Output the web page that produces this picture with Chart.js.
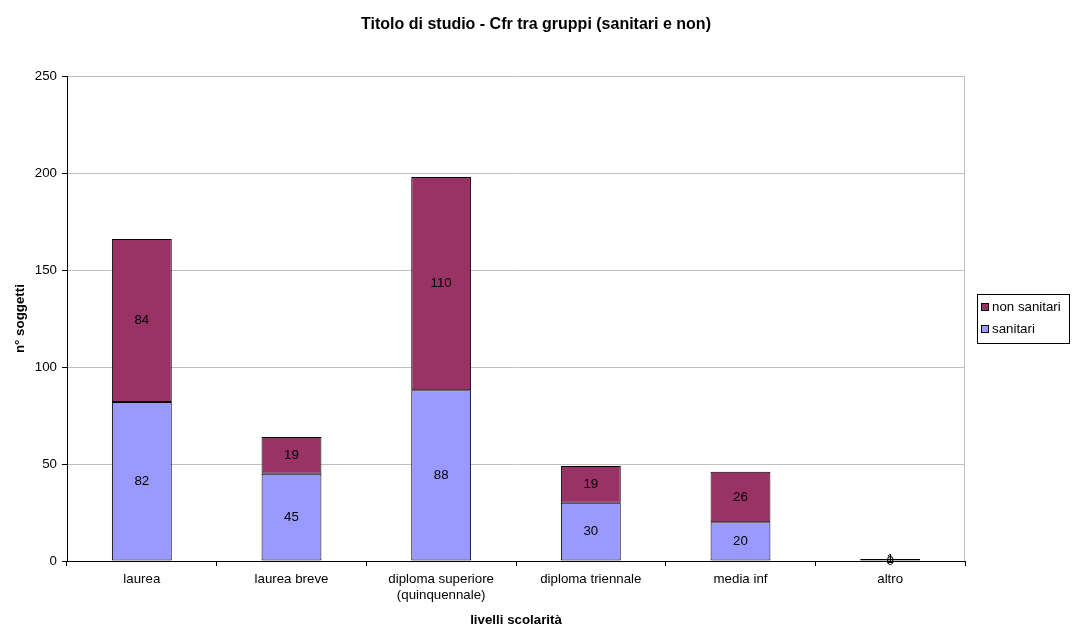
<!DOCTYPE html>
<html>
<head>
<meta charset="utf-8">
<script src="https://cdn.jsdelivr.net/npm/chart.js@4"></script>
<style>
  html, body { margin: 0; padding: 0; background: #fff; }
  #wrap { width: 1072px; height: 628px; }
</style>
</head>
<body>
<div id="wrap"><canvas id="chart" width="1072" height="628"></canvas></div>
<script>
const categories = ["laurea", "laurea breve", ["diploma superiore", "(quinquennale)"], "diploma triennale", "media inf", "altro"];
const sanitari = [82, 45, 88, 30, 20, 0];
const nonSanitari = [84, 19, 110, 19, 26, 1];
const yTicks = [0, 50, 100, 150, 200, 250];

const FONT = "'Liberation Sans', Arial, sans-serif";
const TXT = 13.3;

// value labels in the middle of each segment
const valueLabels = {
  id: "valueLabels",
  afterDatasetsDraw(chart) {
    const ctx = chart.ctx;
    ctx.save();
    ctx.font = TXT + "px " + FONT;
    ctx.fillStyle = "#000";
    ctx.textAlign = "center";
    ctx.textBaseline = "middle";
    chart.data.datasets.forEach((ds, i) => {
      chart.getDatasetMeta(i).data.forEach((bar, j) => {
        const y = (bar.y + bar.base) / 2;
        ctx.fillText(String(ds.data[j]), bar.x, y);
      });
    });
    ctx.restore();
  }
};

// excel-style boxed legend + right border of the plot
const boxLegend = {
  id: "boxLegend",
  afterDraw(chart) {
    const ctx = chart.ctx;
    const a = chart.chartArea;
    ctx.save();
    ctx.strokeStyle = "#c0c0c0";
    ctx.lineWidth = 1;
    ctx.beginPath();
    ctx.moveTo(Math.round(a.right) - 0.5, a.top);
    ctx.lineTo(Math.round(a.right) - 0.5, a.bottom);
    ctx.stroke();

    const items = chart.data.datasets.slice().reverse();
    const x0 = 977, y0 = 294, w = 92, h = 49;
    ctx.strokeStyle = "#000";
    ctx.strokeRect(x0 + 0.5, y0 + 0.5, w, h);
    ctx.font = TXT + "px " + FONT;
    ctx.textBaseline = "middle";
    ctx.textAlign = "left";
    items.forEach((ds, i) => {
      const cy = y0 + 13 + i * 22;
      ctx.fillStyle = ds.backgroundColor;
      ctx.fillRect(x0 + 4, cy - 4, 8, 8);
      ctx.strokeRect(x0 + 4.5, cy - 3.5, 7, 7);
      ctx.fillStyle = "#000";
      ctx.fillText(ds.label, x0 + 15, cy);
    });
    ctx.restore();
  }
};

new Chart(document.getElementById("chart"), {
  type: "bar",
  data: {
    labels: categories,
    datasets: [
      {
        label: "sanitari",
        data: sanitari,
        backgroundColor: "#9999ff",
        borderColor: "#000",
        borderWidth: 1,
        borderSkipped: false,
        barPercentage: 0.4,
        categoryPercentage: 1
      },
      {
        label: "non sanitari",
        data: nonSanitari,
        backgroundColor: "#993366",
        borderColor: "#000",
        borderWidth: 1,
        borderSkipped: false,
        barPercentage: 0.4,
        categoryPercentage: 1
      }
    ]
  },
  options: {
    responsive: false,
    animation: false,
    layout: { padding: 0 },
    plugins: {
      legend: { display: false },
      tooltip: { enabled: false },
      title: {
        display: true,
        text: "Titolo di studio - Cfr tra gruppi (sanitari e non)",
        color: "#000",
        font: { family: FONT, size: 16, weight: "bold" },
        padding: { top: 15, bottom: 42 }
      }
    },
    scales: {
      x: {
        stacked: true,
        afterFit(scale) { scale.height = 67; },
        border: { color: "#000", width: 1 },
        grid: { offset: true, drawOnChartArea: false, tickLength: 5, color: "#000" },
        ticks: { color: "#000", font: { family: FONT, size: TXT, lineHeight: 1.15 }, padding: 6, maxRotation: 0 },
        title: {
          display: true,
          text: "livelli scolarità",
          color: "#000",
          font: { family: FONT, size: TXT, weight: "bold" },
          padding: { top: 0, bottom: 0 }
        }
      },
      y: {
        stacked: true,
        min: 0,
        max: 250,
        afterFit(scale) { scale.width = 67; },
        afterBuildTicks(scale) { scale.ticks = yTicks.map(v => ({ value: v })); },
        border: { color: "#000", width: 1 },
        grid: { color: "#c0c0c0", tickLength: 5, tickColor: "#000" },
        ticks: { color: "#000", font: { family: FONT, size: TXT }, padding: 5 },
        title: {
          display: true,
          text: "n° soggetti",
          color: "#000",
          font: { family: FONT, size: TXT, weight: "bold" },
          padding: { top: 12, bottom: 0 }
        }
      },
      // empty right-hand space that holds the legend
      legendSpace: {
        type: "linear",
        position: "right",
        display: true,
        afterFit(scale) { scale.width = 107; },
        border: { display: false },
        grid: { display: false },
        ticks: { display: false }
      }
    }
  },
  plugins: [valueLabels, boxLegend]
});
</script>
</body>
</html>
